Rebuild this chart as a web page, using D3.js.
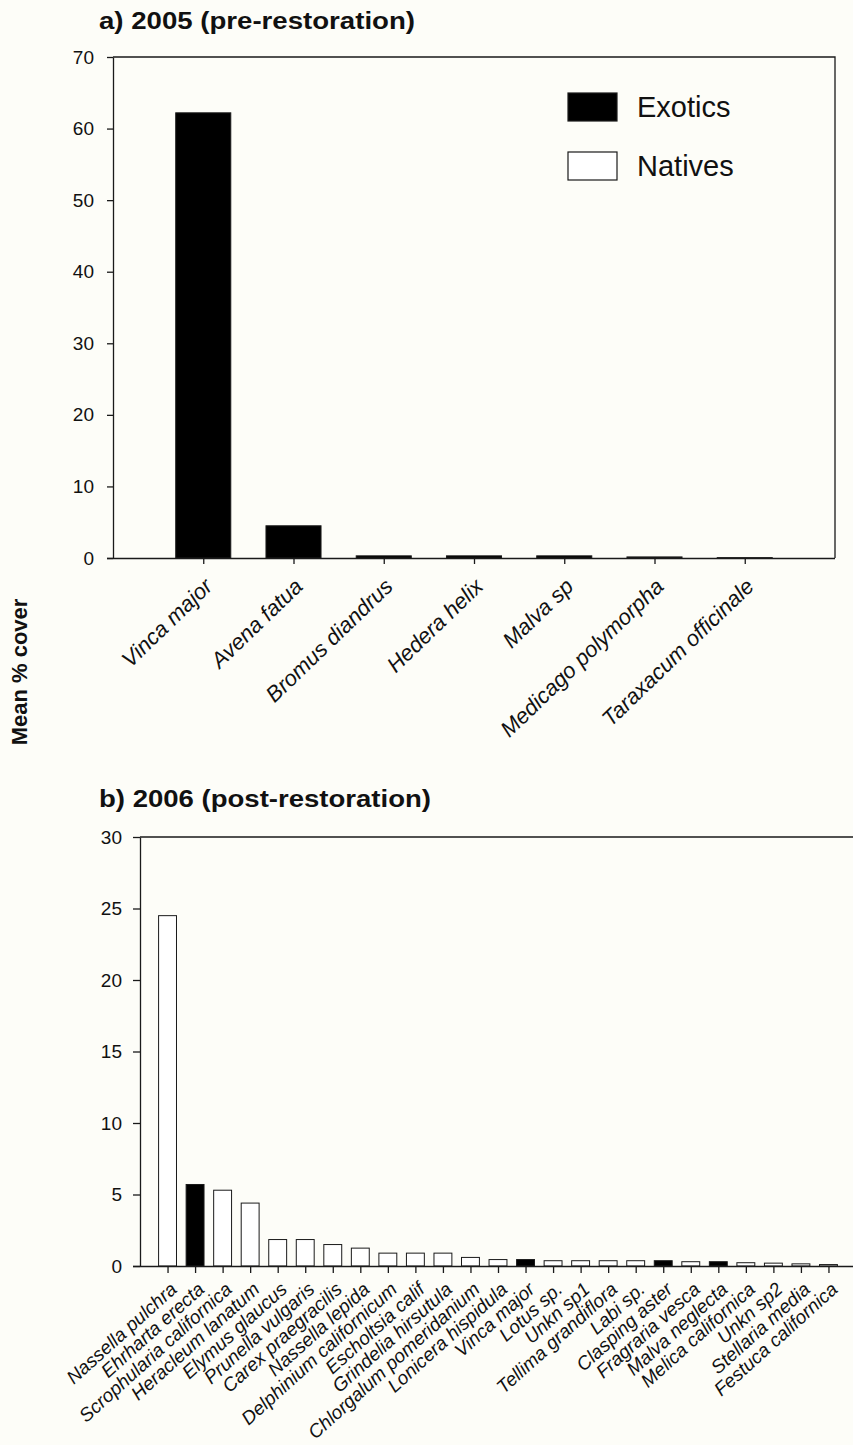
<!DOCTYPE html>
<html>
<head>
<meta charset="utf-8">
<script src="https://cdn.jsdelivr.net/npm/d3@7"></script>
<style>
  body { margin: 0; background: #fdfdf8; }
  svg { display: block; font-family: "Liberation Sans", Arial, sans-serif; }
</style>
</head>
<body>
<div id="chart"></div>
<script>
// ============================================================================
// data
// ============================================================================

// a) 2005, pre-restoration (all exotic species)
const species2005 = ["Vinca major", "Avena fatua", "Bromus diandrus", "Hedera helix",
  "Malva sp", "Medicago polymorpha", "Taraxacum officinale"];
const cover2005 = [62.2, 4.5, 0.3, 0.3, 0.3, 0.15, 0.05];
const exotic2005 = [true, true, true, true, true, true, true];

// b) 2006, post-restoration
const species2006 = ["Nassella pulchra", "Ehrharta erecta", "Scrophularia californica",
  "Heracleum lanatum", "Elymus glaucus", "Prunella vulgaris", "Carex praegracilis",
  "Nassella lepida", "Delphinium californicum", "Escholtsia calif", "Grindelia hirsutula",
  "Chlorgalum pomeridanium", "Lonicera hispidula", "Vinca major", "Lotus sp.", "Unkn sp1",
  "Tellima grandiflora", "Labi sp.", "Clasping aster", "Fragraria vesca", "Malva neglecta",
  "Melica californica", "Unkn sp2", "Stellaria media", "Festuca californica"];
const cover2006 = [24.5, 5.7, 5.3, 4.4, 1.85, 1.85, 1.5, 1.25, 0.9, 0.9, 0.9,
  0.6, 0.45, 0.45, 0.37, 0.37, 0.37, 0.37, 0.37, 0.3, 0.3, 0.23, 0.2, 0.15, 0.1];
const exotic2006 = [false, true, false, false, false, false, false, false, false, false, false,
  false, false, true, false, false, false, false, true, false, true, false, false, false, false];

const yTicks2005 = [0, 10, 20, 30, 40, 50, 60, 70];
const yTicks2006 = [0, 5, 10, 15, 20, 25, 30];

const legendLabels = ["Exotics", "Natives"];
const legendFills = ["#000", "#fff"];

// ============================================================================
// drawing
// ============================================================================

const width = 853, height = 1445;
const ink = "#1a1a1a";

const svg = d3.select("#chart").append("svg")
  .attr("width", width)
  .attr("height", height);

function drawPanel(opt) {
  const x = d3.scalePoint()
    .domain(opt.names)
    .range([opt.left, opt.right])
    .padding(1);
  const y = d3.scaleLinear()
    .domain([0, opt.ymax])
    .range([opt.bottom, opt.top]);

  const g = svg.append("g");

  // frame (top + right)
  g.append("path")
    .attr("fill", "none")
    .attr("stroke", ink)
    .attr("stroke-width", 1.3)
    .attr("d", `M${opt.left},${opt.top}H${opt.right}V${opt.bottom}`);

  // bars
  const bw = x.step() * opt.barFrac;
  g.append("g")
    .selectAll("rect")
    .data(opt.names.map((n, i) => ({ name: n, v: opt.values[i], exotic: opt.exotic[i] })))
    .join("rect")
      .attr("x", d => x(d.name) - bw / 2)
      .attr("y", d => y(d.v))
      .attr("width", bw)
      .attr("height", d => y(0) - y(d.v))
      .attr("fill", d => d.exotic ? "#000" : "#fff")
      .attr("stroke", ink)
      .attr("stroke-width", 1);

  // y axis
  const yAxis = g.append("g")
    .attr("transform", `translate(${opt.left},0)`)
    .call(d3.axisLeft(y).tickValues(opt.yticks).tickSize(opt.tickLen)
      .tickPadding(opt.yPad).tickSizeOuter(0));
  yAxis.selectAll("path, line").attr("stroke", ink).attr("stroke-width", 1.3);
  yAxis.selectAll("text")
    .attr("fill", "#111")
    .attr("font-size", opt.yFont)
    .attr("font-family", "Liberation Sans, Arial, sans-serif");

  // x axis
  const xAxis = g.append("g")
    .attr("transform", `translate(0,${opt.bottom})`)
    .call(d3.axisBottom(x).tickSize(opt.tickLen).tickSizeOuter(0));
  xAxis.select(".domain")
    .attr("d", `M${opt.left - opt.tickLen},0.5H${opt.right}`);
  xAxis.selectAll("path, line").attr("stroke", ink).attr("stroke-width", 1.3);
  xAxis.selectAll("text")
    .attr("x", 0).attr("y", 0).attr("dy", null)
    .attr("text-anchor", "end")
    .attr("transform", `translate(${opt.lblDx},${opt.lblDy}) rotate(${opt.angle})`)
    .attr("fill", "#111")
    .attr("font-style", "italic")
    .attr("font-size", opt.xFont)
    .attr("font-family", "Liberation Sans, Arial, sans-serif");

  // panel title (wide bold lettering in the original)
  svg.append("text")
    .attr("x", 99)
    .attr("y", opt.titleY)
    .attr("font-size", 23)
    .attr("font-weight", "bold")
    .attr("fill", "#111")
    .attr("textLength", opt.titleW)
    .attr("lengthAdjust", "spacingAndGlyphs")
    .text(opt.title);

  return { x, y };
}

drawPanel({
  names: species2005, values: cover2005, exotic: exotic2005,
  left: 113, right: 835, top: 57, bottom: 558, ymax: 70, yticks: yTicks2005,
  barFrac: 0.61, tickLen: 6, yPad: 13, yFont: 19, xFont: 22, angle: -44,
  lblDx: 10, lblDy: 30, title: "a) 2005 (pre-restoration)", titleY: 29, titleW: 316
});

drawPanel({
  names: species2006, values: cover2006, exotic: exotic2006,
  left: 140, right: 856, top: 837, bottom: 1266, ymax: 30, yticks: yTicks2006,
  barFrac: 0.65, tickLen: 7, yPad: 11, yFont: 19, xFont: 19, angle: -42,
  lblDx: 10, lblDy: 25, title: "b) 2006 (post-restoration)", titleY: 807, titleW: 332
});

// legend (top panel)
const legend = svg.append("g")
  .selectAll("g")
  .data(legendLabels)
  .join("g")
    .attr("transform", (d, i) => `translate(568,${93 + i * 59})`);
legend.append("rect")
  .attr("width", 49)
  .attr("height", 28)
  .attr("fill", (d, i) => legendFills[i])
  .attr("stroke", ink)
  .attr("stroke-width", 1.2);
legend.append("text")
  .attr("x", 69)
  .attr("y", 24)
  .attr("font-size", 29)
  .attr("fill", "#111")
  .text(d => d);

// shared y axis title
svg.append("text")
  .attr("transform", "translate(27,672) rotate(-90)")
  .attr("text-anchor", "middle")
  .attr("font-size", 22)
  .attr("font-weight", "bold")
  .attr("fill", "#111")
  .text("Mean % cover");
</script>
</body>
</html>
